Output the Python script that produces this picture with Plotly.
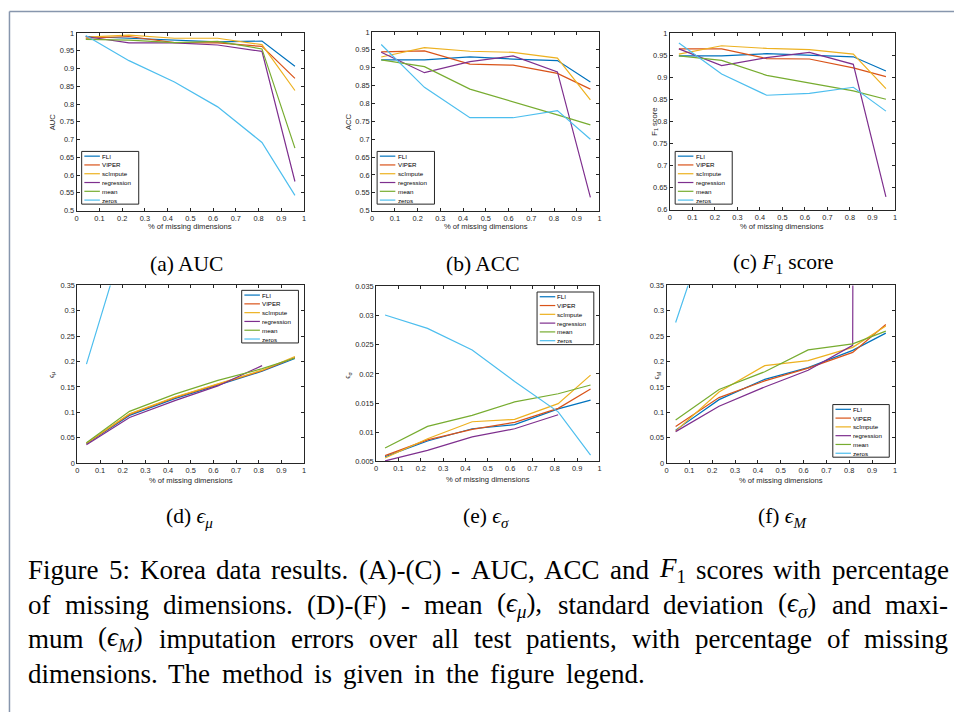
import plotly.graph_objects as go

W, H = 954, 712

# ---------------- data ----------------
x_missing = [0.04, 0.23, 0.43, 0.62, 0.815, 0.96]
methods = ["FLI", "VIPER", "scImpute", "regression", "mean", "zeros"]
colors = ["#0072BD", "#D95319", "#EDB120", "#7E2F8E", "#77AC30", "#4DBEEE"]

# (a) AUC
auc_fli = [0.990, 0.985, 0.978, 0.975, 0.977, 0.906]
auc_viper = [0.985, 0.990, 0.973, 0.972, 0.962, 0.872]
auc_scimpute = [0.988, 0.994, 0.985, 0.985, 0.967, 0.838]
auc_regression = [0.990, 0.972, 0.972, 0.966, 0.948, 0.582]
auc_mean = [0.982, 0.980, 0.973, 0.976, 0.955, 0.676]
auc_zeros = [0.993, 0.922, 0.862, 0.792, 0.692, 0.543]

# (b) ACC
acc_fli = [0.922, 0.922, 0.930, 0.924, 0.920, 0.860]
acc_viper = [0.944, 0.947, 0.910, 0.907, 0.884, 0.840]
acc_scimpute = [0.930, 0.956, 0.946, 0.943, 0.927, 0.810]
acc_regression = [0.943, 0.886, 0.917, 0.933, 0.888, 0.537]
acc_mean = [0.922, 0.903, 0.840, 0.805, 0.768, 0.740]
acc_zeros = [0.965, 0.845, 0.760, 0.760, 0.780, 0.700]

# (c) F1 score
f1_fli = [0.948, 0.948, 0.953, 0.950, 0.946, 0.914]
f1_viper = [0.964, 0.964, 0.942, 0.941, 0.921, 0.901]
f1_scimpute = [0.952, 0.971, 0.965, 0.962, 0.952, 0.874]
f1_regression = [0.964, 0.926, 0.944, 0.956, 0.929, 0.629]
f1_mean = [0.948, 0.938, 0.904, 0.887, 0.869, 0.850]
f1_zeros = [0.977, 0.907, 0.859, 0.863, 0.877, 0.823]

# (d) mean imputation error
emu_fli = [0.038, 0.094, 0.127, 0.153, 0.181, 0.206]
emu_viper = [0.039, 0.096, 0.129, 0.155, 0.182, 0.208]
emu_scimpute = [0.039, 0.097, 0.130, 0.156, 0.183, 0.210]
emu_regression = [0.036, 0.090, 0.123, 0.152, 0.192, None]
emu_mean = [0.040, 0.102, 0.136, 0.163, 0.186, 0.207]
emu_zeros = [0.195, 0.475, 0.700, 0.900, 1.100, 1.300]

# (e) std of imputation error
esd_fli = [0.0058, 0.0085, 0.0106, 0.0113, 0.0140, 0.0155]
esd_viper = [0.0060, 0.0087, 0.0105, 0.0117, 0.0141, 0.0174]
esd_scimpute = [0.0056, 0.0089, 0.0118, 0.0122, 0.0149, 0.0198]
esd_regression = [0.0051, 0.0069, 0.0092, 0.0106, 0.0130, None]
esd_mean = [0.0073, 0.0110, 0.0129, 0.0152, 0.0166, 0.0181]
esd_zeros = [0.0301, 0.0278, 0.0241, 0.0187, 0.0135, 0.0061]

# (f) max imputation error
emax_fli = [0.065, 0.125, 0.165, 0.188, 0.222, 0.256]
emax_viper = [0.072, 0.129, 0.162, 0.187, 0.218, 0.273]
emax_scimpute = [0.063, 0.140, 0.192, 0.202, 0.228, 0.270]
emax_regression = [0.062, 0.112, 0.150, 0.183, 0.232, 25.0]
emax_mean = [0.085, 0.145, 0.180, 0.223, 0.235, 0.260]
emax_zeros = [0.277, 0.560, 0.800, 1.000, 1.200, 1.400]

x_ticks = [0, 0.1, 0.2, 0.3, 0.4, 0.5, 0.6, 0.7, 0.8, 0.9, 1]
x_ticktext = ["0", "0.1", "0.2", "0.3", "0.4", "0.5", "0.6", "0.7", "0.8", "0.9", "1"]
score_ticks = [0.5, 0.55, 0.6, 0.65, 0.7, 0.75, 0.8, 0.85, 0.9, 0.95, 1]
score_ticktext = ["0.5", "0.55", "0.6", "0.65", "0.7", "0.75", "0.8", "0.85", "0.9", "0.95", "1"]
f1_ticks = [0.6, 0.65, 0.7, 0.75, 0.8, 0.85, 0.9, 0.95, 1]
f1_ticktext = ["0.6", "0.65", "0.7", "0.75", "0.8", "0.85", "0.9", "0.95", "1"]
err_ticks = [0, 0.05, 0.1, 0.15, 0.2, 0.25, 0.3, 0.35]
err_ticktext = ["0", "0.05", "0.1", "0.15", "0.2", "0.25", "0.3", "0.35"]
sd_ticks = [0.005, 0.01, 0.015, 0.02, 0.025, 0.03, 0.035]
sd_ticktext = ["0.005", "0.01", "0.015", "0.02", "0.025", "0.03", "0.035"]

x_title = "% of missing dimensions"
sub_captions = ["(a) AUC", "(b) ACC", "(c) <i>F</i><sub>1</sub> score",
                "(d) <i>ϵ</i><sub><i>μ</i></sub>", "(e) <i>ϵ</i><sub><i>σ</i></sub>",
                "(f) <i>ϵ</i><sub><i>M</i></sub>"]
y_titles = ["AUC", "ACC", "F<sub>1</sub> score", "ϵ<sub>μ</sub>", "ϵ<sub>σ</sub>", "ϵ<sub>M</sub>"]

# ---------------- layout helpers ----------------
def fx(px):
    return px / W

def fy(py):
    return 1 - py / H

panels = [
    dict(series=[auc_fli, auc_viper, auc_scimpute, auc_regression, auc_mean, auc_zeros],
         box=(75, 29.3, 303.3, 209.3), yr=[0.5, 1], yt=score_ticks, ytt=score_ticktext,
         leg=(80, 149.3, 137.3, 202.7), ylab=(51, 119), xlab_y=225, cap=(185, 263)),
    dict(series=[acc_fli, acc_viper, acc_scimpute, acc_regression, acc_mean, acc_zeros],
         box=(371.7, 28.3, 600, 209.3), yr=[0.5, 1], yt=score_ticks, ytt=score_ticktext,
         leg=(376.7, 149.3, 434.3, 202.7), ylab=(348, 119), xlab_y=225, cap=(483, 263)),
    dict(series=[f1_fli, f1_viper, f1_scimpute, f1_regression, f1_mean, f1_zeros],
         box=(670.7, 29.3, 896.7, 208.3), yr=[0.6, 1], yt=f1_ticks, ytt=f1_ticktext,
         leg=(676, 149.3, 733.3, 202.7), ylab=(656, 119), xlab_y=225, cap=(785, 263)),
    dict(series=[emu_fli, emu_viper, emu_scimpute, emu_regression, emu_mean, emu_zeros],
         box=(75.7, 285, 303.3, 465), yr=[0, 0.35], yt=err_ticks, ytt=err_ticktext,
         leg=(240.7, 290, 297.7, 343.3), ylab=(50, 376), xlab_y=483, cap=(188, 520)),
    dict(series=[esd_fli, esd_viper, esd_scimpute, esd_regression, esd_mean, esd_zeros],
         box=(375.7, 286, 600, 463.3), yr=[0.005, 0.035], yt=sd_ticks, ytt=sd_ticktext,
         leg=(537.3, 291.7, 594.3, 345), ylab=(348, 376), xlab_y=482, cap=(486, 520)),
    dict(series=[emax_fli, emax_viper, emax_scimpute, emax_regression, emax_mean, emax_zeros],
         box=(667.3, 285, 896.7, 465), yr=[0, 0.35], yt=err_ticks, ytt=err_ticktext,
         leg=(834.3, 405.7, 891, 459), ylab=(658, 376), xlab_y=483, cap=(784, 520)),
]

AX = "#262626"
tickfont = dict(family="Liberation Sans, Arial, sans-serif", size=7.4, color=AX)
fig = go.Figure()
layout = dict(width=W, height=H, margin=dict(l=0, r=0, t=0, b=0), autosize=False,
              paper_bgcolor="white", plot_bgcolor="white", showlegend=False)
shapes = []
annotations = []

for i, p in enumerate(panels, start=1):
    x0, y0, x1, y1 = p["box"]
    xa = "x" if i == 1 else f"x{i}"
    ya = "y" if i == 1 else f"y{i}"
    common = dict(showline=True, linecolor=AX, linewidth=1, mirror="ticks", ticks="inside",
                  ticklen=3, tickwidth=1, tickcolor=AX, showgrid=False, zeroline=False,
                  tickfont=tickfont, fixedrange=True)
    layout["xaxis" if i == 1 else f"xaxis{i}"] = dict(
        domain=[fx(x0), fx(x1)], anchor=ya, range=[0, 1], tickmode="array",
        tickvals=x_ticks, ticktext=x_ticktext, **common)
    layout["yaxis" if i == 1 else f"yaxis{i}"] = dict(
        domain=[fy(y1), fy(y0)], anchor=xa, range=p["yr"], tickmode="array",
        tickvals=p["yt"], ticktext=p["ytt"], **common)
    for name, col, vals in zip(methods, colors, p["series"]):
        fig.add_trace(go.Scatter(x=x_missing, y=vals, mode="lines", name=name,
                                 line=dict(color=col, width=1.2), xaxis=xa, yaxis=ya,
                                 hoverinfo="skip"))
    # legend (MATLAB-style, drawn manually)
    lx0, ly0, lx1, ly1 = p["leg"]
    shapes.append(dict(type="rect", xref="paper", yref="paper", x0=fx(lx0), x1=fx(lx1),
                       y0=fy(ly1), y1=fy(ly0), line=dict(color=AX, width=1),
                       fillcolor="white", layer="above"))
    for k, (name, col) in enumerate(zip(methods, colors)):
        ry = ly0 + 4.8 + k * 8.9
        shapes.append(dict(type="line", xref="paper", yref="paper", x0=fx(lx0 + 2.7),
                           x1=fx(lx0 + 18.3), y0=fy(ry), y1=fy(ry),
                           line=dict(color=col, width=1.2), layer="above"))
        annotations.append(dict(xref="paper", yref="paper", x=fx(lx0 + 19.5), y=fy(ry),
                                xanchor="left", yanchor="middle", text=name, showarrow=False,
                                borderpad=0,
                                font=dict(family="Liberation Sans, Arial, sans-serif",
                                          size=6.2, color="#000000")))
    # axis titles
    annotations.append(dict(xref="paper", yref="paper", x=fx((x0 + x1) / 2), y=fy(p["xlab_y"]),
                            xanchor="center", yanchor="middle", text=x_title, showarrow=False,
                            font=dict(family="Liberation Sans, Arial, sans-serif", size=7.6,
                                      color=AX)))
    annotations.append(dict(xref="paper", yref="paper", x=fx(p["ylab"][0]), y=fy(p["ylab"][1]),
                            xanchor="center", yanchor="middle", text=y_titles[i - 1],
                            textangle=-90, showarrow=False,
                            font=dict(family="Liberation Sans, Arial, sans-serif", size=7.6,
                                      color=AX)))
    # sub-caption
    annotations.append(dict(xref="paper", yref="paper", x=fx(p["cap"][0]), y=fy(p["cap"][1]),
                            xanchor="center", yanchor="middle", text=sub_captions[i - 1],
                            showarrow=False,
                            font=dict(family="Liberation Serif, Times New Roman, serif",
                                      size=21.5, color="#000000")))

# ---------------- figure caption (justified) ----------------
TIMES = {' ': 250, '(': 333, ')': 333, ',': 250, '-': 333, '.': 250, ':': 278,
         'A': 722, 'B': 667, 'C': 667, 'D': 722, 'E': 611, 'F': 556, 'G': 722, 'H': 722,
         'I': 333, 'K': 722, 'M': 889, 'T': 611, 'U': 722,
         'a': 444, 'b': 500, 'c': 444, 'd': 500, 'e': 444, 'f': 333, 'g': 500, 'h': 500,
         'i': 278, 'j': 278, 'k': 500, 'l': 278, 'm': 778, 'n': 500, 'o': 500, 'p': 500,
         'q': 500, 'r': 333, 's': 389, 't': 278, 'u': 500, 'v': 500, 'w': 722, 'x': 500,
         'y': 500, 'z': 444}

def wid(s):
    return sum(TIMES.get(c, 500) for c in s) / 1000.0

EPS = "<i>ϵ</i>"
cap_lines = [
    ["Figure", "5:", "Korea", "data", "results.", "(A)-(C)", "-", "AUC,", "ACC", "and",
     ("<i>F</i><sub>1</sub>", 0.611 + 0.35), "scores", "with", "percentage"],
    ["of", "missing", "dimensions.", "(D)-(F)", "-", "mean",
     ("(" + EPS + "<sub><i>μ</i></sub>),", 0.333 + 0.44 + 0.35 + 0.333 + 0.25),
     "standard", "deviation",
     ("(" + EPS + "<sub><i>σ</i></sub>)", 0.333 + 0.44 + 0.35 + 0.333), "and", "maxi-"],
    ["mum", ("(" + EPS + "<sub><i>M</i></sub>)", 0.333 + 0.44 + 0.58 + 0.333), "imputation",
     "errors", "over", "all", "test", "patients,", "with", "percentage", "of", "missing"],
    ["dimensions.", "The", "method", "is", "given", "in", "the", "figure", "legend."],
]
cap_y = [573.5, 608.5, 643.5, 678.5]
cap_right = [949, 949, 949, 644]
CAP_SIZE = 27
X_LEFT = 25
for li, words in enumerate(cap_lines):
    items = [(w, wid(w)) if isinstance(w, str) else w for w in words]
    widths = [wv * CAP_SIZE for _, wv in items]
    gap = (cap_right[li] - X_LEFT - sum(widths)) / (len(items) - 1)
    xpos = X_LEFT
    for (txt, _), wpx in zip(items, widths):
        annotations.append(dict(xref="paper", yref="paper", x=fx(xpos), y=fy(cap_y[li]),
                                xanchor="left", yanchor="middle", text=txt, showarrow=False,
                                borderpad=0,
                                font=dict(family="Liberation Serif, Times New Roman, serif",
                                          size=CAP_SIZE, color="#000000")))
        xpos += wpx + gap

# page frame
FRAME = "#8796ad"
shapes.append(dict(type="line", xref="paper", yref="paper", x0=fx(7.5), x1=fx(7.5),
                   y0=fy(7.5), y1=fy(H + 5), line=dict(color=FRAME, width=1.5)))
shapes.append(dict(type="line", xref="paper", yref="paper", x0=fx(7.5), x1=fx(W + 5),
                   y0=fy(7.5), y1=fy(7.5), line=dict(color=FRAME, width=1.5)))

layout["shapes"] = shapes
layout["annotations"] = annotations
fig.update_layout(**layout)
fig.write_html("out.html")
